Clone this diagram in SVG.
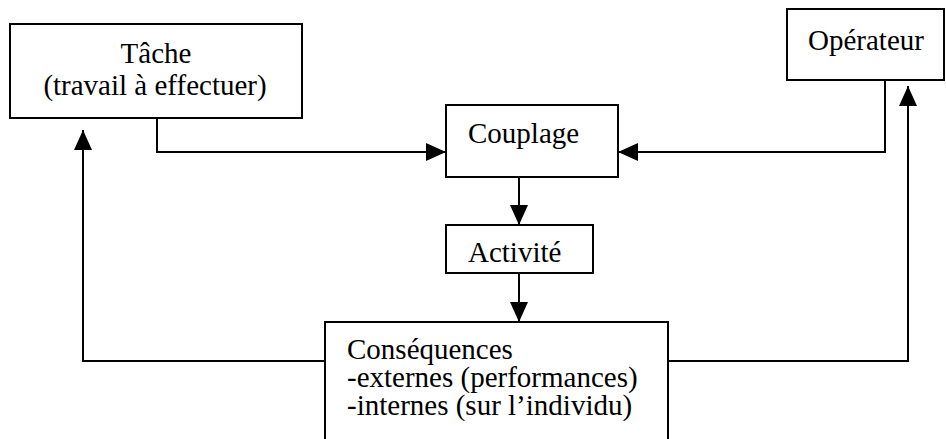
<svg xmlns="http://www.w3.org/2000/svg" width="946" height="439" viewBox="0 0 946 439">
  <style>
    .box { fill: #fff; stroke: #000; stroke-width: 2; }
    .lbl { font-family: "Liberation Serif", "Times New Roman", serif; font-size: 29px; fill: #000; }
    .link { fill: none; stroke: #000; stroke-width: 2; }
  </style>
  <defs>
    <marker id="head" markerUnits="userSpaceOnUse" markerWidth="20" markerHeight="18" refX="20" refY="9" orient="auto">
      <path d="M0,0 L20,9 L0,18 z" fill="#000"/>
    </marker>
  </defs>
  <rect width="946" height="439" fill="#fff"/>

  <g id="connectors">
    <path class="link" d="M157,118 V152 H446" marker-end="url(#head)"/>
    <path class="link" d="M885,80 V152 H618" marker-end="url(#head)"/>
    <path class="link" d="M519,177 V225" marker-end="url(#head)"/>
    <path class="link" d="M519,273 V322" marker-end="url(#head)"/>
    <path class="link" d="M325,361 H83 V130" marker-end="url(#head)"/>
    <path class="link" d="M668,361 H908 V86" marker-end="url(#head)"/>
  </g>

  <g id="tache">
    <rect class="box" x="10" y="24" width="292" height="94"/>
    <text class="lbl" x="156" y="63" text-anchor="middle">Tâche</text>
    <text class="lbl" x="155" y="95" text-anchor="middle">(travail à effectuer)</text>
  </g>

  <g id="operateur">
    <rect class="box" x="787" y="9" width="157" height="71"/>
    <text class="lbl" x="808" y="50">Opérateur</text>
  </g>

  <g id="couplage">
    <rect class="box" x="446" y="105" width="172" height="72"/>
    <text class="lbl" x="468" y="143">Couplage</text>
  </g>

  <g id="activite">
    <rect class="box" x="446" y="225" width="147" height="48"/>
    <text class="lbl" x="468" y="262">Activité</text>
  </g>

  <g id="consequences">
    <rect class="box" x="325" y="322" width="343" height="130"/>
    <text class="lbl" x="347" y="359">Conséquences</text>
    <text class="lbl" x="347" y="387">-externes (performances)</text>
    <text class="lbl" x="347" y="415">-internes (sur l’individu)</text>
  </g>
</svg>
